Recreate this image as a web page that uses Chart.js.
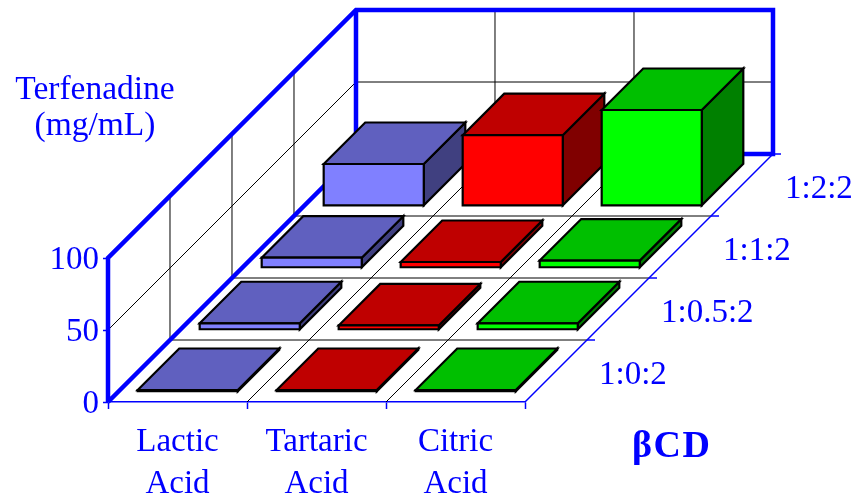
<!DOCTYPE html>
<html>
<head>
<meta charset="utf-8">
<style>html,body{margin:0;padding:0;background:#fff}canvas{display:block}</style>
<script src="https://cdn.jsdelivr.net/npm/chart.js@4/dist/chart.umd.min.js"></script>
</head>
<body>
<canvas id="c" width="854" height="496"></canvas>
<script>
// ---- data ----
const acids = [['Lactic','Acid'],['Tartaric','Acid'],['Citric','Acid']];
const ratios = ['1:0:2','1:0.5:2','1:1:2','1:2:2'];
const row_1_0_2   = [1.2, 1.2, 1.2];
const row_1_05_2  = [4.5, 3, 4.5];
const row_1_1_2   = [7, 4, 5];
const row_1_2_2   = [29, 49, 66.5];
const rows = [row_1_0_2, row_1_05_2, row_1_1_2, row_1_2_2];
const yTicks = [0, 50, 100];
const yTitle = ['Terfenadine', '(mg/mL)'];
const depthTitle = 'βCD';

// ---- styles ----
const BLUE = '#0000ff';
const SERIF = '"Liberation Serif", serif';
const frontColors = ['#8080ff', '#ff0000', '#00ff00'];
const topColors   = ['#6060bf', '#bf0000', '#00bf00'];
const sideColors  = ['#404080', '#800000', '#008000'];
const DEPTH_MAX = 6.726;      // linear depth scale range: 4 rows take up 248px of the plot width
const BAR_DEPTH = 0.67;       // share of a row that a bar occupies

class Bar3D extends Chart.BarController {
  draw() {
    const chart = this.chart, ctx = chart.ctx, z = chart.scales.z;
    const r = this.index;
    const off = d => z.getPixelForValue(d) - z.getPixelForValue(0);
    const margin = (1 - BAR_DEPTH) / 2;
    const f = off(r + margin), b = off(r + 1 - margin);
    ctx.save();
    ctx.lineWidth = 2.2;
    ctx.strokeStyle = '#000';
    ctx.lineJoin = 'miter';
    this.getMeta().data.forEach((el, i) => {
      const L = el.x - el.width / 2 + f, R = el.x + el.width / 2 + f;
      const T = el.y - f, B = el.base - f, d = b - f;
      const poly = (pts, fill) => {
        ctx.beginPath();
        pts.forEach((p, k) => k ? ctx.lineTo(p[0], p[1]) : ctx.moveTo(p[0], p[1]));
        ctx.closePath();
        ctx.fillStyle = fill;
        ctx.fill();
        ctx.stroke();
      };
      poly([[R,T],[R+d,T-d],[R+d,B-d],[R,B]], sideColors[i]);
      poly([[L,T],[L+d,T-d],[R+d,T-d],[R,T]], topColors[i]);
      poly([[L,T],[R,T],[R,B],[L,B]], frontColors[i]);
    });
    ctx.restore();
  }
}
Bar3D.id = 'bar3d';
Bar3D.defaults = Chart.BarController.defaults;
Chart.register(Bar3D);

const room = {
  id: 'room',
  beforeDatasetsDraw(chart) {
    const {ctx, scales:{x, y, z}} = chart;
    const x0 = x.left, x1 = x.right, y0 = y.getPixelForValue(0);
    const H = y.getPixelForValue(100) - y0;           // negative
    const M = y.getPixelForValue(50) - y0;
    const off = d => z.getPixelForValue(d) - z.getPixelForValue(0);
    const D = off(ratios.length);
    const xEdge = i => (x.getPixelForTick(i) + x.getPixelForTick(i + 1)) / 2;
    const line = (pts, color, w) => {
      ctx.beginPath();
      pts.forEach((p, k) => k ? ctx.lineTo(p[0], p[1]) : ctx.moveTo(p[0], p[1]));
      ctx.strokeStyle = color; ctx.lineWidth = w; ctx.stroke();
    };
    ctx.save();
    ctx.lineJoin = 'miter';
    // thin grid
    for (let r = 1; r < ratios.length; r++) {
      const o = off(r);
      line([[x0+o, y0-o],[x1+o, y0-o]], '#000', 1);
      line([[x0+o, y0-o],[x0+o, y0-o+H]], '#000', 1);
    }
    for (let i = 0; i < 2; i++) {
      const e = xEdge(i);
      line([[e, y0],[e+D, y0-D]], '#000', 1);
      line([[e+D, y0-D],[e+D, y0-D+H]], '#000', 1);
    }
    line([[x0, y0+M],[x0+D, y0-D+M],[x1+D, y0-D+M]], '#000', 1);
    // depth axis and its ticks
    line([[x1, y0],[x1+D, y0-D]], BLUE, 1.5);
    for (let r = 1; r <= ratios.length; r++) {
      const o = off(r);
      line([[x1+o, y0-o],[x1+o+8, y0-o]], BLUE, 1.5);
    }
    // heavy wall outline
    line([[x0, y0],[x0+D, y0-D],[x1+D, y0-D],[x1+D, y0-D+H],[x0+D, y0-D+H],[x0, y0+H],[x0, y0]], BLUE, 4.5);
    line([[x0+D, y0-D],[x0+D, y0-D+H]], BLUE, 4.5);
    // texts
    ctx.fillStyle = BLUE;
    ctx.textBaseline = 'middle';
    ctx.textAlign = 'left';
    ctx.font = '33px ' + SERIF;
    ratios.forEach((t, r) => {
      const o = off(r + 0.5);
      ctx.fillText(t, x1 + o + 43, y0 - o + 4);
    });
    ctx.textBaseline = 'alphabetic';
    ctx.textAlign = 'center';
    ctx.font = '33.5px ' + SERIF;
    ctx.fillText(yTitle[0], 95, 99);
    ctx.fillText(yTitle[1], 95, 135);
    ctx.textAlign = 'left';
    ctx.font = 'bold 38px ' + SERIF;
    ctx.letterSpacing = '1.5px';
    ctx.fillText(depthTitle, 632, 457);
    ctx.restore();
  }
};

new Chart(document.getElementById('c'), {
  type: 'bar3d',
  data: {
    labels: acids,
    datasets: rows.map((vals, r) => ({
      label: ratios[r],
      data: vals,
      backgroundColor: frontColors,
      clip: false
    }))
  },
  options: {
    responsive: false,
    animation: false,
    events: [],
    grouped: false,
    barPercentage: 0.72,
    categoryPercentage: 1,
    layout: { padding: { left: 0, top: 258, right: 329, bottom: 0 } },
    plugins: { legend: { display: false }, title: { display: false }, tooltip: { enabled: false } },
    scales: {
      x: {
        type: 'category',
        offset: true,
        afterFit: s => { s.height = 94; },
        border: { display: true, color: BLUE, width: 1.5 },
        grid: { offset: true, drawOnChartArea: false, drawTicks: true, tickLength: 7, tickColor: BLUE, color: BLUE, tickWidth: 1.5 },
        ticks: { color: BLUE, padding: 12, autoSkip: false, maxRotation: 0,
                 font: { family: SERIF, size: 33, lineHeight: 1.28 } }
      },
      y: {
        type: 'linear',
        min: 0, max: 100,
        afterFit: s => { s.width = 108; },
        afterBuildTicks: s => { s.ticks = yTicks.map(v => ({ value: v })); },
        border: { display: false },
        grid: { drawOnChartArea: false, drawTicks: true, tickLength: 5, tickColor: BLUE, color: BLUE, tickWidth: 1.5 },
        ticks: { color: BLUE, padding: 4, labelOffset: 2, font: { family: SERIF, size: 33 } }
      },
      z: {
        type: 'linear',
        axis: 'x',
        position: 'top',
        offset: false,
        min: 0, max: DEPTH_MAX,
        afterFit: s => { s.height = 0; },
        border: { display: false },
        grid: { display: false, drawTicks: false, offset: false },
        ticks: { display: false, padding: 0 }
      }
    }
  },
  plugins: [room]
});
</script>
</body>
</html>
